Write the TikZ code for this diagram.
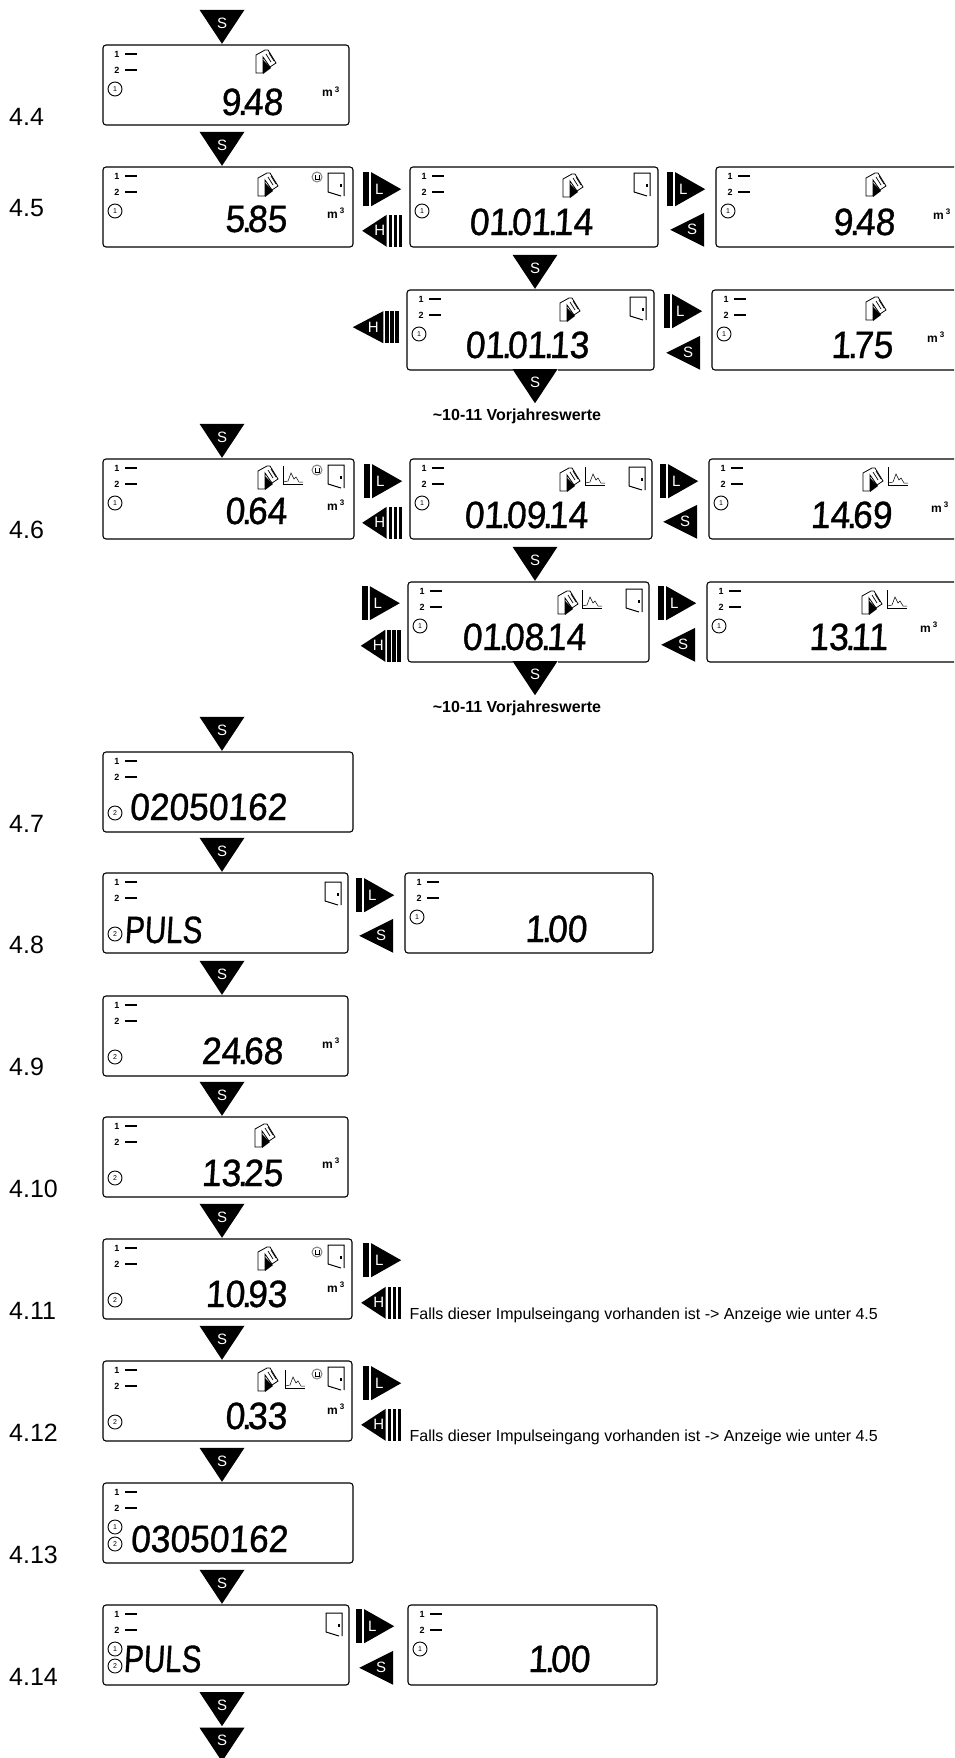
\documentclass[tikz,border=0pt]{standalone}
\usepackage{fontspec}
\setmainfont{Liberation Sans}
\newfontfamily\lcdfont[FakeSlant=0.06,FakeStretch=0.93,FakeBold=0.9]{Liberation Sans}
\newfontfamily\lcdalpha[FakeSlant=0.06,FakeStretch=0.78,FakeBold=0.9]{Liberation Sans}
\usetikzlibrary{positioning,calc}

\newcommand{\dt}{\kern-3pt.\kern-4pt}
% display frame with the two marks and the input rings
\newcommand{\lcd}[4]{%
  \node[lcd, minimum width=#2pt, #3] (#1) {};
  \node[marknum] (#1a) at ($(#1.north west)+(14,9)$) {1};
  \node[markbar, right=5pt of #1a] (#1ab) {};
  \node[marknum] (#1b) at ($(#1.north west)+(14,25)$) {2};
  \node[markbar, right=5pt of #1b] (#1bb) {};
  \foreach \r in {#4} {\node[ring] (#1r\r) at ($(#1.north west)+(12,{27+17*\r})$) {\r};}
}

\begin{document}
\begin{tikzpicture}[
  x=1pt, y=-1pt,
  lcd/.style={draw, line width=1.1pt, rounded corners=3pt, minimum height=80pt, inner sep=0pt, outer sep=0pt, anchor=north west},
  marknum/.style={font=\bfseries\fontsize{9}{9}\selectfont, inner sep=0pt},
  markbar/.style={fill=black, minimum width=12pt, minimum height=2pt, inner sep=0pt},
  ring/.style={circle, draw, line width=0.9pt, fill=white, minimum size=14pt, inner sep=0pt, font=\fontsize{7}{7}\selectfont},
  val/.style={font=\lcdfont\fontsize{38}{38}\selectfont, inner sep=0pt, anchor=base east},
  valtxt/.style={val, font=\lcdalpha\fontsize{38}{38}\selectfont},
  unit/.style={font=\bfseries\fontsize{12}{12}\selectfont, inner sep=0pt, anchor=base west},
  sect/.style={font=\fontsize{25}{25}\selectfont, inner sep=0pt, anchor=base west},
  note/.style={font=\fontsize{16}{16}\selectfont, inner sep=0pt, anchor=base west},
  prev/.style={font=\bfseries\fontsize{16}{16}\selectfont, inner sep=0pt},
  btn/.style={text=white, font=\fontsize{15}{15}\selectfont, inner sep=0pt},
  sdown/.style={btn, minimum width=45pt, minimum height=34pt, text depth=8pt,
    path picture={\fill[black] (path picture bounding box.north west) -- (path picture bounding box.north east)
      -- (path picture bounding box.south) -- cycle;}},
  sleft/.style={btn, minimum width=34pt, minimum height=34pt, execute at begin node=\kern10pt,
    path picture={\fill (path picture bounding box.north east) -- (path picture bounding box.west)
      -- (path picture bounding box.south east) -- cycle;}},
  lbtn/.style={btn, minimum width=38pt, minimum height=34pt, execute at end node=\kern6pt,
    path picture={\fill (path picture bounding box.north west) rectangle ([xshift=6pt]path picture bounding box.south west);
      \fill ([xshift=8pt]path picture bounding box.north west) -- (path picture bounding box.east)
      -- ([xshift=8pt]path picture bounding box.south west) -- cycle;}},
  hbtn/.style={btn, minimum width=40pt, minimum height=32pt, execute at end node=\kern5pt,
    path picture={\fill (path picture bounding box.west) -- ([xshift=-15.5pt]path picture bounding box.north east)
      -- ([xshift=-15.5pt]path picture bounding box.south east) -- cycle;
      \foreach \b in {0,5,10} {\fill ([xshift=-\b pt]path picture bounding box.north east) rectangle ([xshift=-\b pt-3.5pt]path picture bounding box.south east);}}},
  tapicon/.pic={
    \draw[line width=0.8pt, fill=white] (1,24) -- (1,6) -- (10,1) -- (13,1) -- (21,14) -- (15,18) -- (8,8) -- (8,24) -- cycle;
    \fill (8,25) -- (8,11) -- (16,19) -- cycle;
    \draw[line width=0.7pt] (11,5) -- (16,13) (14,4) -- (19,12);
  },
  doorpic/.pic={
    \draw[line width=1pt] (0,19) -- (0,0) -- (16,0) -- (16,23) (0,19) -- (13,23);
    \fill (12,11) rectangle (13.5,14);
  },
  valvepic/.pic={
    \draw[line width=1pt, gray] (0,0) circle (5);
    \draw[line width=0.7pt] (-2,-2) -- (-2,2) -- (2,2) -- (2,-2);
  },
  chartpic/.pic={
    \draw[line width=0.7pt] (0,0) -- (0,18) -- (20,18);
    \draw[line width=0.5pt] (0,16) -- (5,15) -- (8,7) -- (11,13) -- (13,11) -- (16,16) -- (20,16);
  },
]
  \clip (0,0) rectangle (954,1758);

  % Left column
  \lcd{d44}{246}{at={(103,45)}}{1}
  \lcd{d45}{250}{below right=42pt and 0pt of d44.south west}{1}
  \lcd{d46}{251}{below right=212pt and 0pt of d45.south west}{1}
  \lcd{d47}{250}{below right=213pt and 0pt of d46.south west}{2}
  \lcd{d48}{245}{below right=41pt and 0pt of d47.south west}{2}
  \lcd{d49}{245}{below right=43pt and 0pt of d48.south west}{2}
  \lcd{d410}{245}{below right=41pt and 0pt of d49.south west}{2}
  \lcd{d411}{249}{below right=42pt and 0pt of d410.south west}{2}
  \lcd{d412}{249}{below right=42pt and 0pt of d411.south west}{2}
  \lcd{d413}{250}{below right=42pt and 0pt of d412.south west}{1,2}
  \lcd{d414}{246}{below right=42pt and 0pt of d413.south west}{1,2}

  % Displays reached with L
  \lcd{d45b}{248}{below right=0pt and 57pt of d45.north east}{1}
  \lcd{d45c}{250}{below right=0pt and 58pt of d45b.north east}{1}
  \lcd{d45d}{247}{below right=43pt and -3pt of d45b.south west}{1}
  \lcd{d45e}{250}{below right=0pt and 58pt of d45d.north east}{1}
  \lcd{d46b}{242}{below right=0pt and 56pt of d46.north east}{1}
  \lcd{d46c}{250}{below right=0pt and 57pt of d46b.north east}{1}
  \lcd{d46d}{241}{below right=43pt and -2pt of d46b.south west}{1}
  \lcd{d46e}{250}{below right=0pt and 58pt of d46d.north east}{1}
  \lcd{d48b}{248}{below right=0pt and 57pt of d48.north east}{1}
  \lcd{d414b}{249}{below right=0pt and 59pt of d414.north east}{1}

  % Values
  \node[val] (v44) at (283,115) {9\dt48};
  \node[val] (v45) at (287,232) {5\dt85};
  \node[val] (v45b) at (593,235) {01\dt01\dt14};
  \node[val] (v45c) at (895,235) {9\dt48};
  \node[val] (v45d) at (589,358) {01\dt01\dt13};
  \node[val] (v45e) at (893,358) {1\dt75};
  \node[val] (v46) at (287,524) {0\dt64};
  \node[val] (v46b) at (588,528) {01\dt09\dt14};
  \node[val] (v46c) at (892,528) {14\dt69};
  \node[val] (v46d) at (586,650) {01\dt08\dt14};
  \node[val] (v46e) at (888,650) {13\dt11};
  \node[val] (v47) at (287,820) {02050162};
  \node[valtxt] (v48) at (202,943) {PULS};
  \node[val] (v48b) at (587,942) {1\dt00};
  \node[val] (v49) at (283,1064) {24\dt68};
  \node[val] (v410) at (283,1186) {13\dt25};
  \node[val] (v411) at (287,1307) {10\dt93};
  \node[val] (v412) at (287,1429) {0\dt33};
  \node[val] (v413) at (288,1552) {03050162};
  \node[valtxt] (v414) at (201,1672) {PULS};
  \node[val] (v414b) at (590,1672) {1\dt00};

  % Units
  \node[unit] (u44) at (322,97) {m\kern2pt\textsuperscript{3}};
  \node[unit] (u45) at (327,218) {m\kern2pt\textsuperscript{3}};
  \node[unit] (u45c) at (933,219) {m\kern2pt\textsuperscript{3}};
  \node[unit] (u45e) at (927,342) {m\kern2pt\textsuperscript{3}};
  \node[unit] (u46) at (327,510) {m\kern2pt\textsuperscript{3}};
  \node[unit] (u46c) at (931,512) {m\kern2pt\textsuperscript{3}};
  \node[unit] (u46e) at (920,632) {m\kern2pt\textsuperscript{3}};
  \node[unit] (u49) at (322,1048) {m\kern2pt\textsuperscript{3}};
  \node[unit] (u410) at (322,1168) {m\kern2pt\textsuperscript{3}};
  \node[unit] (u411) at (327,1292) {m\kern2pt\textsuperscript{3}};
  \node[unit] (u412) at (327,1414) {m\kern2pt\textsuperscript{3}};

  % Symbols
  \pic at (255,49) {tapicon};
  \pic at (257,172) {tapicon};
  \pic at (562,173) {tapicon};
  \pic at (865,172) {tapicon};
  \pic at (559,297) {tapicon};
  \pic at (865,296) {tapicon};
  \pic at (257,465) {tapicon};
  \pic at (559,467) {tapicon};
  \pic at (862,467) {tapicon};
  \pic at (557,590) {tapicon};
  \pic at (861,590) {tapicon};
  \pic at (254,1123) {tapicon};
  \pic at (257,1246) {tapicon};
  \pic at (257,1367) {tapicon};

  \pic at (283,466) {chartpic};
  \pic at (585,467) {chartpic};
  \pic at (888,467) {chartpic};
  \pic at (582,590) {chartpic};
  \pic at (887,590) {chartpic};
  \pic at (285,1370) {chartpic};

  \pic at (317,177) {valvepic};
  \pic at (317,470) {valvepic};
  \pic at (317,1252) {valvepic};
  \pic at (317,1374) {valvepic};

  \pic at (328,173) {doorpic};
  \pic at (634,173) {doorpic};
  \pic at (630,297) {doorpic};
  \pic at (328,465) {doorpic};
  \pic at (629,467) {doorpic};
  \pic at (626,589) {doorpic};
  \pic at (325,882) {doorpic};
  \pic at (328,1245) {doorpic};
  \pic at (328,1367) {doorpic};
  \pic at (326,1613) {doorpic};

  % S going down
  \node[sdown, above=1pt of d44, xshift=-4pt] (s44) {S};
  \node[sdown, above=1pt of d45, xshift=-6pt] (s45) {S};
  \node[sdown, above=1pt of d45d, xshift=4.5pt] (s45d) {S};
  \node[sdown, fill=white, below=-1pt of d45d, xshift=4.5pt] (s45x) {S};
  \node[sdown, above=1pt of d46, xshift=-6.5pt] (s46) {S};
  \node[sdown, above=1pt of d46d, xshift=6.5pt] (s46d) {S};
  \node[sdown, fill=white, below=-1pt of d46d, xshift=6.5pt] (s46x) {S};
  \node[sdown, above=1pt of d47, xshift=-6pt] (s47) {S};
  \node[sdown, above=1pt of d48, xshift=-3.5pt] (s48) {S};
  \node[sdown, above=1pt of d49, xshift=-3.5pt] (s49) {S};
  \node[sdown, above=1pt of d410, xshift=-3.5pt] (s410) {S};
  \node[sdown, above=1pt of d411, xshift=-5.5pt] (s411) {S};
  \node[sdown, above=1pt of d412, xshift=-5.5pt] (s412) {S};
  \node[sdown, above=1pt of d413, xshift=-6pt] (s413) {S};
  \node[sdown, above=1pt of d414, xshift=-4pt] (s414) {S};
  \node[sdown, below=7pt of d414, xshift=-4pt] (s415) {S};
  \node[sdown, below=1pt of s415] (s416) {S};

  % L, H and S between the displays
  \node[lbtn, below right=5pt and 10pt of d45.north east] (l45) {L};
  \node[hbtn, above right=0pt and 9pt of d45.south east] (h45) {H};
  \node[lbtn, below right=5pt and 9pt of d45b.north east] (l45b) {L};
  \node[sleft, above right=0pt and 12pt of d45b.south east] (b45b) {S};
  \node[hbtn, minimum width=46pt, below left=21pt and 8pt of d45d.north west] (h45d) {H};
  \node[lbtn, below right=4pt and 10pt of d45d.north east] (l45d) {L};
  \node[sleft, above right=0pt and 12pt of d45d.south east] (b45d) {S};
  \node[lbtn, below right=5pt and 10pt of d46.north east] (l46) {L};
  \node[hbtn, above right=0pt and 8pt of d46.south east] (h46) {H};
  \node[lbtn, below right=5pt and 8pt of d46b.north east] (l46b) {L};
  \node[sleft, above right=0pt and 11pt of d46b.south east] (b46b) {S};
  \node[lbtn, below left=4pt and 8pt of d46d.north west] (l46d) {L};
  \node[hbtn, above left=0pt and 7pt of d46d.south west] (h46d) {H};
  \node[lbtn, below right=4pt and 9pt of d46d.north east] (l46e) {L};
  \node[sleft, above right=0pt and 12pt of d46d.south east] (b46d) {S};
  \node[lbtn, below right=5pt and 8pt of d48.north east] (l48) {L};
  \node[sleft, above right=0pt and 11pt of d48.south east] (b48) {S};
  \node[lbtn, below right=4pt and 11pt of d411.north east] (l411) {L};
  \node[hbtn, above right=0pt and 9pt of d411.south east] (h411) {H};
  \node[lbtn, below right=5pt and 11pt of d412.north east] (l412) {L};
  \node[hbtn, above right=0pt and 9pt of d412.south east] (h412) {H};
  \node[lbtn, below right=4pt and 7pt of d414.north east] (l414) {L};
  \node[sleft, above right=0pt and 10pt of d414.south east] (b414) {S};

  % Notes
  \node[prev, below=5pt of s45x, xshift=-18pt] (p45) {\char`\~10-11 Vorjahreswerte};
  \node[prev, below=5pt of s46x, xshift=-18pt] (p46) {\char`\~10-11 Vorjahreswerte};
  \node[note, xshift=8pt] (n411) at (h411.south east) {Falls dieser Impulseingang vorhanden ist -> Anzeige wie unter 4.5};
  \node[note, xshift=8pt] (n412) at (h412.south east) {Falls dieser Impulseingang vorhanden ist -> Anzeige wie unter 4.5};

  % Section numbers
  \node[sect] (n44) at (9,125) {4.4};
  \node[sect] (n45) at (9,216) {4.5};
  \node[sect] (n46) at (9,538) {4.6};
  \node[sect] (n47) at (9,832) {4.7};
  \node[sect] (n48) at (9,953) {4.8};
  \node[sect] (n49) at (9,1075) {4.9};
  \node[sect] (n410) at (9,1197) {4.10};
  \node[sect] (n411n) at (9,1319) {4.11};
  \node[sect] (n412n) at (9,1441) {4.12};
  \node[sect] (n413) at (9,1563) {4.13};
  \node[sect] (n414) at (9,1685) {4.14};
\end{tikzpicture}
\end{document}
